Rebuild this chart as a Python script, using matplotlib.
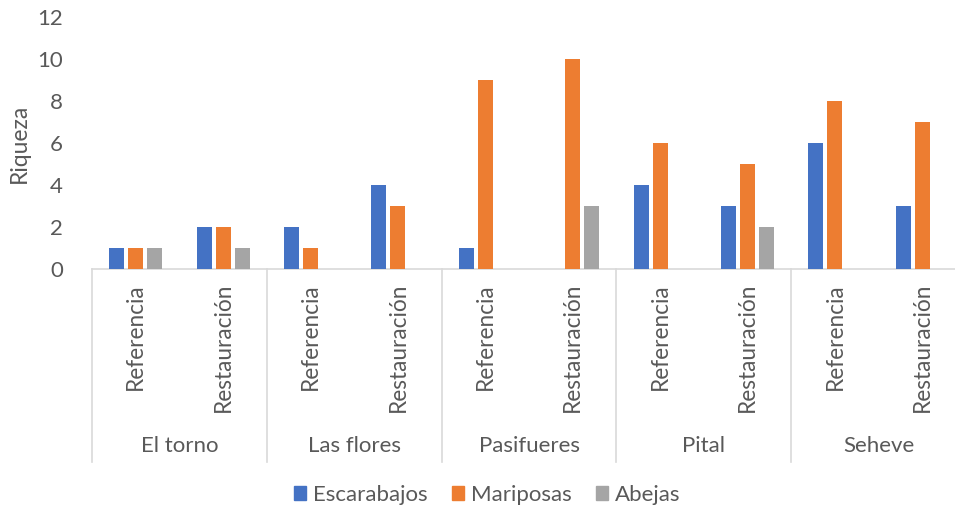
import matplotlib
matplotlib.use("Agg")
import matplotlib.pyplot as plt
from matplotlib.patches import Rectangle

sites = ["El torno", "Las flores", "Pasifueres", "Pital", "Seheve"]
treatments = ["Referencia", "Restauración"]
series_names = ["Escarabajos", "Mariposas", "Abejas"]
escarabajos = [1, 2, 2, 4, 1, 0, 4, 3, 6, 3]
mariposas = [1, 2, 1, 3, 9, 10, 6, 5, 8, 7]
abejas = [1, 1, 0, 0, 0, 3, 0, 2, 0, 0]
yticks = [0, 2, 4, 6, 8, 10, 12]

colors = ["#4472C4", "#ED7D31", "#A5A5A5"]
text_color = "#595959"
line_color = "#D9D9D9"
fs = 16

plt.rcParams["font.family"] = ["Lato", "DejaVu Sans"]

fig = plt.figure(figsize=(9.55, 5.12), dpi=100)
ax = fig.add_axes([92 / 955, (512 - 269) / 512, 874 / 955, 252 / 512])

n_cat = len(sites) * len(treatments)
xs = list(range(n_cat))
step = 0.217
width = 0.171
for k, (vals, col) in enumerate(zip([escarabajos, mariposas, abejas], colors)):
    off = (k - 1) * step
    ax.bar([x + off for x in xs], vals, width=width, color=col,
           label=series_names[k], zorder=3)

ax.set_xlim(-0.5, n_cat - 0.5)
ax.set_ylim(0, 12)
ax.set_yticks(yticks)
ax.set_yticklabels([str(t) for t in yticks], fontsize=fs, color=text_color)
ax.tick_params(axis="y", length=0, pad=21)
ax.set_xticks([])
for s in ["left", "top", "right"]:
    ax.spines[s].set_visible(False)
ax.spines["bottom"].set_color(line_color)
ax.spines["bottom"].set_linewidth(1.2)

ax.set_ylabel("Riqueza", fontsize=16.5, color=text_color, labelpad=5)

trans = ax.get_xaxis_transform()
# two-level category axis: treatment labels, site labels and separators
for i in range(n_cat):
    ax.text(xs[i], -14 / 252, treatments[i % 2], transform=trans,
            rotation=90, ha="center", va="top", fontsize=16.3,
            color=text_color, clip_on=False)
for g, site in enumerate(sites):
    center = 2 * g + 0.5
    ax.text(center, -177 / 252, site, transform=trans, ha="center",
            va="center", fontsize=fs, color=text_color, clip_on=False)
for b in range(len(sites) + 1):
    xb = 2 * b - 0.5
    ax.plot([xb, xb], [0, -193 / 252], transform=trans, color=line_color,
            lw=1.2, clip_on=False)

handles = [Rectangle((0, 0), 1, 1, color=c) for c in colors]
fig.legend(handles, series_names, loc="center", bbox_to_anchor=(487 / 955, 1 - 495 / 512),
           ncol=3, frameon=False, fontsize=fs, labelcolor=text_color,
           handlelength=0.55, handleheight=0.55, handletextpad=0.3, columnspacing=1.1)

fig.savefig("out.png", dpi=100)
